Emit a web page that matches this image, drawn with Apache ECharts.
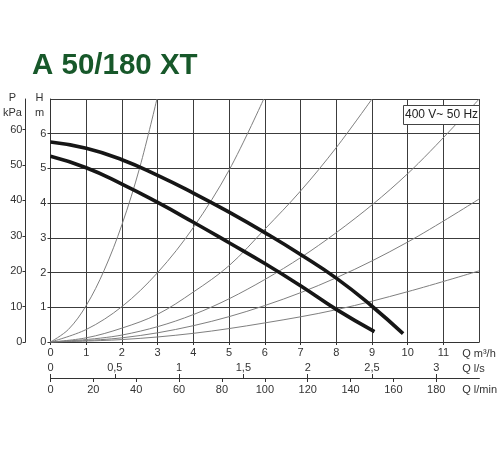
<!DOCTYPE html>
<html><head><meta charset="utf-8">
<script src="https://cdn.jsdelivr.net/npm/echarts@6/dist/echarts.min.js"></script>
<style>html,body{margin:0;padding:0;background:#fff}#c{width:500px;height:450px}</style>
</head><body><div id="c"></div>
<script>
const chartTitle = 'A 50/180 XT';
const supplyNote = '400 V~ 50 Hz';

// pump curves: [Q m3/h, H m]
const pumpHigh = [[0,5.76],[1,5.58],[2,5.25],[3,4.8],[4,4.29],[5,3.74],[6,3.15],[7,2.52],[8,1.84],[9,1.03],[9.87,0.24]];
const pumpLow  = [[0,5.35],[1,5.02],[2,4.55],[3,4.02],[4,3.45],[5,2.86],[6,2.26],[7,1.62],[8,0.94],[9.07,0.3]];

// system (resistance) curves
const system1 = [[0,0],[0.5,0.36],[1,1.05],[1.5,2.06],[2,3.38],[2.5,5.03],[2.98,7.0]];
const system2 = [[0,0],[1,0.36],[2,1.02],[3,2.0],[4,3.3],[5,4.95],[5.97,7.0]];
const system3 = [[0,0],[1,0.12],[2,0.4],[3,0.8],[4,1.44],[5,2.2],[6,3.25],[7,4.35],[8,5.6],[9,7.0]];
const system4 = [[0,0],[2,0.2],[4,0.79],[6,1.8],[8,3.15],[10,4.85],[12,7.0]];
const system5 = [[0,0],[2,0.12],[4,0.47],[6,1.05],[8,1.85],[10,2.88],[12,4.12]];
const system6 = [[0,0],[2,0.07],[4,0.25],[6,0.55],[8,0.93],[10,1.45],[12,2.05]];
const systemCurves = [system1, system2, system3, system4, system5, system6];

// axis ranges
const qMaxM3h = 12;
const hMax = 7;
const axisNames = { m3h: 'Q m³/h', ls: 'Q l/s', lmin: 'Q l/min', h: 'H\nm', p: 'P\nkPa' };

const FONT = 'Liberation Sans, Arial, sans-serif';
const AX = '#333';
const GRID = '#3c3c3c';
const lbl = (extra) => Object.assign({fontSize: 11, color: AX, fontFamily: FONT}, extra || {});

const chart = echarts.init(document.getElementById('c'), null, {renderer: 'canvas'});

const series = systemCurves.map(d => ({
  type: 'line', data: d, xAxisIndex: 0, yAxisIndex: 0, showSymbol: false, smooth: 0.35,
  lineStyle: {color: '#7f7f7f', width: 1}, silent: true, z: 2
})).concat([pumpHigh, pumpLow].map(d => ({
  type: 'line', data: d, xAxisIndex: 0, yAxisIndex: 0, showSymbol: false, smooth: true,
  lineStyle: {color: '#161616', width: 3.6}, silent: true, z: 3
})));

chart.setOption({
  animation: false,
  backgroundColor: '#fff',
  textStyle: {fontFamily: FONT},
  title: [
    {text: chartTitle, left: 32, top: 51, padding: 0,
     textStyle: {fontSize: 29.5, fontWeight: 'bold', color: '#17582a', fontFamily: FONT}},
    {text: supplyNote, left: 403, top: 105, padding: [4, 2], borderColor: '#444', borderWidth: 1,
     backgroundColor: '#fff', z: 10,
     textStyle: {fontSize: 12, fontWeight: 'normal', color: '#222', fontFamily: FONT}}
  ],
  grid: {left: 48.5, right: 19.5, top: 99, bottom: 108, containLabel: false},
  xAxis: [
    {type: 'value', min: 0, max: qMaxM3h, interval: 1, position: 'bottom',
     axisLine: {show: true, onZero: false, lineStyle: {color: AX}},
     axisTick: {show: true, length: 3, lineStyle: {color: AX}},
     axisLabel: lbl({margin: 5, showMaxLabel: false}),
     splitLine: {show: true, lineStyle: {color: GRID, width: 1}},
     name: axisNames.m3h, nameLocation: 'end', nameGap: -17,
     nameTextStyle: lbl({align: 'left', verticalAlign: 'top', padding: [6, 0, 0, 0]})},
    {type: 'value', min: 0, max: qMaxM3h / 3.6, interval: 0.5, position: 'bottom', offset: 36,
     axisLine: {show: true, onZero: false, lineStyle: {color: AX}},
     axisTick: {show: true, inside: true, length: 4, lineStyle: {color: AX}},
     axisLabel: lbl({inside: true, margin: 5, showMaxLabel: false,
       formatter: v => String(v).replace('.', ',')}),
     splitLine: {show: false},
     name: axisNames.ls, nameLocation: 'end', nameGap: -17,
     nameTextStyle: lbl({align: 'left', verticalAlign: 'bottom', padding: [0, 0, 4, 0]})},
    {type: 'value', min: 0, max: qMaxM3h / 3.6 * 60, interval: 20, position: 'bottom', offset: 36,
     axisLine: {show: true, onZero: false, lineStyle: {color: AX}},
     axisTick: {show: true, length: 4, lineStyle: {color: AX}},
     axisLabel: lbl({margin: 6, showMaxLabel: false}),
     splitLine: {show: false},
     name: axisNames.lmin, nameLocation: 'end', nameGap: -17,
     nameTextStyle: lbl({align: 'left', verticalAlign: 'top', padding: [6, 0, 0, 0]})}
  ],
  yAxis: [
    {type: 'value', min: 0, max: hMax, interval: 1, position: 'left',
     axisLine: {show: true, onZero: false, lineStyle: {color: AX}},
     axisTick: {show: true, length: 3, lineStyle: {color: AX}},
     axisLabel: lbl({margin: 4, showMaxLabel: false}),
     splitLine: {show: true, lineStyle: {color: GRID, width: 1}},
     name: axisNames.h, nameLocation: 'end', nameGap: -6,
     nameTextStyle: lbl({align: 'center', verticalAlign: 'middle', lineHeight: 15, padding: [0, 22, 0, 0]})},
    {type: 'value', min: 0, max: hMax * 9.80665, interval: 10, position: 'left', offset: 25,
     axisLine: {show: true, onZero: false, lineStyle: {color: AX}},
     axisTick: {show: true, length: 3, lineStyle: {color: AX}},
     axisLabel: lbl({margin: 3, showMaxLabel: false}),
     splitLine: {show: false},
     name: axisNames.p, nameLocation: 'end', nameGap: -6,
     nameTextStyle: lbl({align: 'center', verticalAlign: 'middle', lineHeight: 15, padding: [0, 26, 0, 0]})}
  ],
  series: series
});
</script></body></html>
